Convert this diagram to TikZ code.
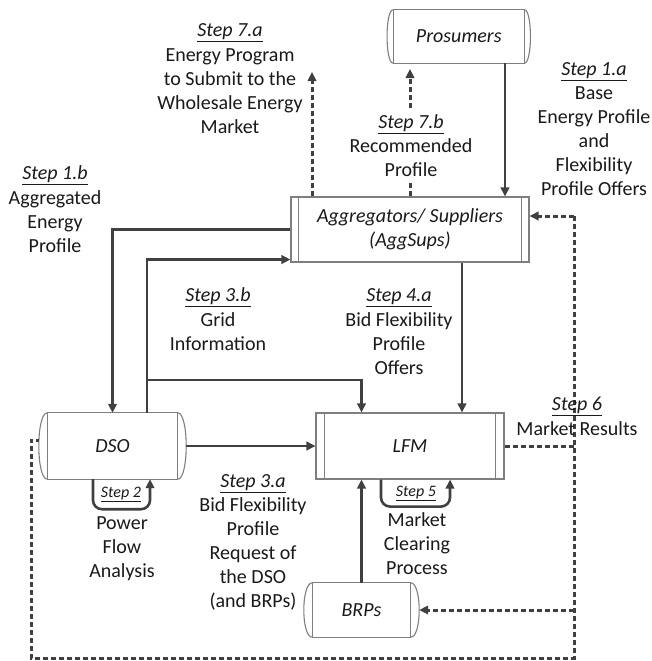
\documentclass[tikz,border=0pt]{standalone}
\usepackage{fontspec}
\setmainfont{Carlito}
\usetikzlibrary{arrows.meta}
\definecolor{ln}{HTML}{404040}
\definecolor{sh}{HTML}{7F7F7F}
\definecolor{txt}{HTML}{1A1A1A}
\newcommand\stp[1]{\vtop{\hbox{\itshape #1}\kern1.6pt\hrule height 1.3pt}}
\newcommand\stpsmall[1]{\vtop{\hbox{\itshape #1}\kern1.4pt\hrule height 1.0pt}}
\newcommand\storebox[2]{%
  \draw[shapeline] ([xshift=#2pt]#1.north west) rectangle ([xshift=-#2pt]#1.south east);
  \draw[shapeline] ([xshift=#2pt]#1.north west) .. controls ([xshift=-#2pt/3]#1.north west) and ([xshift=-#2pt/3]#1.south west) .. ([xshift=#2pt]#1.south west);
  \draw[shapeline] ([xshift=-#2pt]#1.north east) .. controls ([xshift=#2pt/3]#1.north east) and ([xshift=#2pt/3]#1.south east) .. ([xshift=-#2pt]#1.south east);}
\newcommand\procin[2]{%
  \draw[shapeline] ([xshift=#2pt]#1.north west) -- ([xshift=#2pt]#1.south west)
                   ([xshift=-#2pt]#1.north east) -- ([xshift=-#2pt]#1.south east);}
\begin{document}
\begin{tikzpicture}[x=1pt,y=-1pt,
  every node/.style={text=txt},
  shapeline/.style={draw=sh, line width=1.1pt},
  proc/.style={draw=sh, line width=1.1pt, inner sep=0pt, align=center,
    font=\fontsize{20}{24}\selectfont\itshape},
  store/.style={draw=none, inner sep=0pt, align=center,
    font=\fontsize{20}{24}\selectfont\itshape},
  lbl/.style={inner sep=0pt, align=center, anchor=north,
    font=\fontsize{20}{24}\selectfont},
  slbl/.style={inner sep=0pt, anchor=base, font=\fontsize{16}{19}\selectfont},
  arr/.style={draw=ln, line width=2.6pt, -{Triangle[length=9pt,width=8.5pt]}},
  darr/.style={arr, line width=3pt, dash pattern=on 5pt off 3pt},
  dline/.style={draw=ln, line width=3pt, dash pattern=on 5pt off 3pt}]
\fill[white] (0,0) rectangle (652,661);
\useasboundingbox (0,0) rectangle (652,661);

% main shapes
\node[store, minimum width=143pt, minimum height=53pt] (P) at (458.75,36.5) {Prosumers};
\node[proc, minimum width=238pt, minimum height=65pt] (A) at (410,229.5) {Aggregators/ Suppliers\\(AggSups)};
\node[store, minimum width=147pt, minimum height=66pt] (D) at (112.5,446) {DSO};
\node[proc, minimum width=188pt, minimum height=66pt] (L) at (410,446) {LFM};
\node[store, minimum width=115pt, minimum height=54pt] (B) at (361.5,610) {BRPs};
\storebox{P}{6}
\storebox{D}{8.5}
\storebox{B}{8.5}
\procin{A}{8}
\procin{L}{9}

% helper coordinates
\coordinate (x1a) at (505,0);
\coordinate (t7a) at (312,72);
\coordinate (t7b) at (410,69);
\coordinate (x4a) at (462,0);
\coordinate (x3b) at (147,0);
\coordinate (j3) at (147,380);
\coordinate (c6top) at (574,216);
\coordinate (c6bot) at (574,658);
\coordinate (c6bl) at (31,658);
\coordinate (c6dl) at (31,440);

% connectors
\draw[arr] (P.south -| x1a) -- (A.north -| x1a);
\draw[darr] (A.north -| t7a) -- (t7a);
\draw[darr] (A.north -| t7b) -- (t7b);
\draw[arr] (A.west) -| (D.north);
\draw[arr] (D.north -| x3b) |- ([yshift=3pt]A.south west);
\draw[arr] (j3) -| (L.north -| B.north);
\draw[arr] (D.east) -- (L.west);
\draw[arr] (A.south -| x4a) -- (L.north -| x4a);
\draw[arr] (B.north) -- (L.south -| B.north);
\draw[arr, rounded corners=9pt] ([xshift=-19.5pt]D.south) -- ++(0,30) -| ([xshift=37.5pt]D.south);
\draw[arr, rounded corners=9pt] ([xshift=-29pt]L.south) -- ++(0,27) -| ([xshift=40pt]L.south);
\draw[dline] (L.east) -- (L.east -| c6top);
\draw[dline] (c6top) -- (c6bot) -- (c6bl) -- (c6dl) -- (c6dl -| D.west);
\draw[darr] (c6top) -- (c6top -| A.east);
\draw[darr] (B.east -| c6top) -- (B.east);

% labels
\node[lbl] (l7a) at (230,20) {\rule{0pt}{16pt}\stp{Step 7.a}\\[1pt]Energy Program\\to Submit to the\\Wholesale Energy\\Market};
\node[lbl, fill=white, inner ysep=4pt] (l7b) at (411,108) {\rule{0pt}{16pt}\stp{Step 7.b}\\Recommended\\Profile};
\node[lbl] (l1a) at (594,59) {\rule{0pt}{16pt}\stp{Step 1.a}\\Base\\Energy Profile\\and\\Flexibility\\Profile Offers};
\node[lbl] (l1b) at (55,163) {\rule{0pt}{16pt}\stp{Step 1.b}\\[1pt]Aggregated\\Energy\\Profile};
\node[lbl] (l3b) at (218,285) {\rule{0pt}{16pt}\stp{Step 3.b}\\[1pt]Grid\\Information};
\node[lbl] (l4a) at (399,285) {\rule{0pt}{16pt}\stp{Step 4.a}\\[1pt]Bid Flexibility\\Profile\\Offers};
\node[lbl] (l6) at (577,394) {\rule{0pt}{16pt}\stp{Step 6}\\[1pt]Market Results};
\node[lbl] (l3a) at (253,471) {\rule{0pt}{16pt}\stp{Step 3.a}\\Bid Flexibility\\Profile\\Request of\\the DSO\\(and BRPs)};
\node[lbl] (lpf) at (122,513) {\rule{0pt}{16pt}Power\\Flow\\Analysis};
\node[lbl] (lmc) at (417,510) {\rule{0pt}{16pt}Market\\Clearing\\Process};
\node[slbl] (ls2) at (121,497) {\stpsmall{Step 2}};
\node[slbl] (ls5) at (416,496) {\stpsmall{Step 5}};
\end{tikzpicture}
\end{document}
